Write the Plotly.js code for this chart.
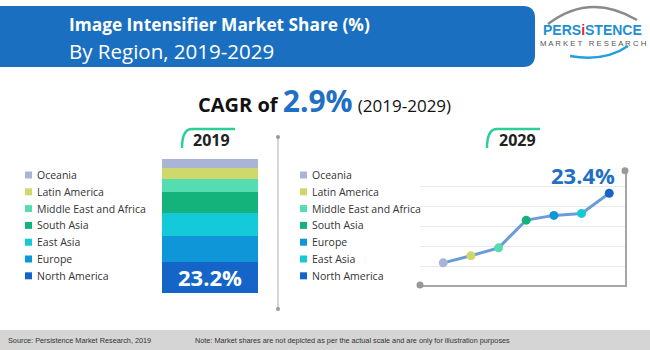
<!DOCTYPE html>
<html><head><meta charset="utf-8">
<script src="https://cdn.plot.ly/plotly-3.0.1.min.js"></script>
<style>html,body{margin:0;padding:0;background:#fff}#chart{width:650px;height:350px}</style>
</head><body><div id="chart"></div>
<script>
// ---- data ----
var regions2019 = ['North America','Europe','East Asia','South Asia','Middle East and Africa','Latin America','Oceania'];
var share2019 = [23.2, 19.4, 17.1, 15.7, 9.4, 8.6, 6.6];
var regions2029 = ['Oceania','Latin America','Middle East and Africa','South Asia','Europe','East Asia','North America'];
var share2029 = [5.8, 7.6, 9.6, 16.6, 17.8, 18.3, 23.4];
var legend2019 = ['Oceania','Latin America','Middle East and Africa','South Asia','East Asia','Europe','North America'];
var legend2029 = ['Oceania','Latin America','Middle East and Africa','South Asia','Europe','East Asia','North America'];
var regionColors = {
  'Oceania':'#aab4d6','Latin America':'#cfd86a','Middle East and Africa':'#55dcb0',
  'South Asia':'#14b37c','East Asia':'#14c9d8','Europe':'#0e96d8','North America':'#1565c8'
};
var titleText = 'Image Intensifier Market Share (%)';
var subtitleText = 'By Region, 2019-2029';
var cagrText = '2.9%';
var sourceText = 'Source: Persistence Market Research, 2019';
var noteText = 'Note: Market shares are not depicted as per the actual scale and are only for illustration purposes';

// ---- helpers (pixel -> paper) ----
var W = 650, H = 350;
function X(p){return p/W;}
function Y(p){return 1-p/H;}
var FONT = 'Open Sans, sans-serif';

var traces = [];
regions2019.forEach(function(r,i){
  var t = {type:'bar', x:['2019'], y:[share2019[i]], name:r, xaxis:'x', yaxis:'y',
    marker:{color:regionColors[r], line:{width:0}}, hoverinfo:'skip', width:1};
  if(r==='North America'){
    t.text=[share2019[i].toFixed(1)+'%']; t.textposition='inside'; t.insidetextanchor='middle';
    t.textfont={family:FONT, size:22, color:'#ffffff', weight:700}; t.constraintext='none';
  }
  traces.push(t);
});
traces.push({type:'scatter', mode:'lines', x:regions2029, y:share2029, xaxis:'x2', yaxis:'y2',
  line:{color:'#6a9cd8', width:3}, hoverinfo:'skip'});
traces.push({type:'scatter', mode:'markers', x:regions2029, y:share2029, xaxis:'x2', yaxis:'y2',
  marker:{size:9, color:regions2029.map(function(r){return regionColors[r];})}, hoverinfo:'skip'});

var shapes = [], annotations = [];
// header band
shapes.push({type:'path', xref:'paper', yref:'paper', layer:'below', line:{width:0}, fillcolor:'#1b6fc0',
  path:'M 0 '+Y(6)+' L '+X(523)+' '+Y(6)+' Q '+X(535)+' '+Y(6)+' '+X(535)+' '+Y(18)+
       ' L '+X(535)+' '+Y(55)+' Q '+X(535)+' '+Y(67)+' '+X(523)+' '+Y(67)+' L 0 '+Y(67)+' Z'});
annotations.push({xref:'paper', yref:'paper', x:X(67), y:Y(25), xanchor:'left', yanchor:'middle', showarrow:false,
  text:'<b>'+titleText+'</b>', font:{family:FONT, size:17.3, color:'#ffffff'}});
annotations.push({xref:'paper', yref:'paper', x:X(67), y:Y(51.5), xanchor:'left', yanchor:'middle', showarrow:false,
  text:subtitleText, font:{family:FONT, size:20.5, color:'#ffffff'}});
// logo
shapes.push({type:'path', xref:'paper', yref:'paper', line:{color:'#8a8a8a', width:2.5},
  path:'M '+X(548)+' '+Y(24)+' Q '+X(590)+' '+Y(-8)+' '+X(637)+' '+Y(20)});
shapes.push({type:'path', xref:'paper', yref:'paper', line:{color:'#22a0dc', width:2.5},
  path:'M '+X(570)+' '+Y(56)+' Q '+X(605)+' '+Y(62)+' '+X(628)+' '+Y(46)});
annotations.push({xref:'paper', yref:'paper', x:X(592), y:Y(30), xanchor:'center', yanchor:'middle', showarrow:false,
  text:'<b>PERS<span style="color:#e2262f">i</span>STENCE</b>', font:{family:'Liberation Sans Narrow, Liberation Sans, sans-serif', size:14, color:'#1e8fd0'}});
annotations.push({xref:'paper', yref:'paper', x:X(593), y:Y(43), xanchor:'center', yanchor:'middle', showarrow:false,
  text:'M A R K E T   R E S E A R C H', font:{family:'Liberation Sans, sans-serif', size:7.8, color:'#555555'}});
// CAGR line
annotations.push({xref:'paper', yref:'paper', x:X(324), y:Y(100), xanchor:'center', yanchor:'middle', showarrow:false,
  text:'<b>CAGR of </b><b><span style="font-size:30px;color:#1f6fc4">'+cagrText+'</span></b> <span style="font-size:17px">(2019-2029)</span>',
  font:{family:FONT, size:20, color:'#111111'}});
// year tabs
[['2019',182,211],['2029',487,517]].forEach(function(t){
  var x0=t[1];
  shapes.push({type:'path', xref:'paper', yref:'paper', line:{color:'#2ccf98', width:2.5},
    path:'M '+X(x0)+' '+Y(148)+' Q '+X(x0)+' '+Y(129)+' '+X(x0+10)+' '+Y(129)+' L '+X(x0+53)+' '+Y(129)});
  annotations.push({xref:'paper', yref:'paper', x:X(t[2]), y:Y(140), xanchor:'center', yanchor:'middle', showarrow:false,
    text:'<b>'+t[0]+'</b>', font:{family:FONT, size:16, color:'#222222'}});
});
// divider
shapes.push({type:'line', xref:'paper', yref:'paper', x0:X(278), x1:X(278), y0:Y(137), y1:Y(309), line:{color:'#c8c8c8', width:1.5}});
[137,309].forEach(function(py){
  shapes.push({type:'circle', xref:'paper', yref:'paper', x0:X(276), x1:X(280), y0:Y(py+2), y1:Y(py-2), fillcolor:'#999999', line:{width:0}});
});
// axis end dots
shapes.push({type:'circle', xref:'paper', yref:'paper', x0:X(416.5), x1:X(423.5), y0:Y(288.5), y1:Y(281.5), fillcolor:'#999999', line:{width:0}});
shapes.push({type:'circle', xref:'paper', yref:'paper', x0:X(621.5), x1:X(628.5), y0:Y(174.2), y1:Y(167.2), fillcolor:'#999999', line:{width:0}});
// legends
function legend(list, lx){
  list.forEach(function(r,i){
    var cy = 175 + i*16.8;
    shapes.push({type:'rect', xref:'paper', yref:'paper', x0:X(lx), x1:X(lx+7), y0:Y(cy+3.5), y1:Y(cy-3.5), fillcolor:regionColors[r], line:{width:0}});
    annotations.push({xref:'paper', yref:'paper', x:X(lx+10), y:Y(cy), xanchor:'left', yanchor:'middle', showarrow:false,
      text:r, font:{family:FONT, size:10.5, color:'#333333'}});
  });
}
legend(legend2019, 25);
legend(legend2029, 300);
// 2029 value label
annotations.push({xref:'x2', yref:'y2', x:regions2029[6], y:share2029[6], xanchor:'center', yanchor:'middle', showarrow:false,
  xshift:-26, yshift:18, text:'<b>'+share2029[6].toFixed(1)+'%</b>', font:{family:FONT, size:22, color:'#1f6fc4'}});
// footer
shapes.push({type:'rect', xref:'paper', yref:'paper', x0:0, x1:1, y0:0, y1:Y(330), fillcolor:'#d5d5d5', line:{width:0}, layer:'below'});
annotations.push({xref:'paper', yref:'paper', x:X(6), y:Y(340), xanchor:'left', yanchor:'middle', showarrow:false,
  text:sourceText, font:{family:'Liberation Sans Narrow, Liberation Sans, sans-serif', size:7.3, color:'#333333'}});
annotations.push({xref:'paper', yref:'paper', x:X(193), y:Y(340), xanchor:'left', yanchor:'middle', showarrow:false,
  text:noteText, font:{family:'Liberation Sans Narrow, Liberation Sans, sans-serif', size:7.3, color:'#333333'}});

var layout = {
  width:W, height:H, margin:{l:0,r:0,t:0,b:0}, paper_bgcolor:'#ffffff', plot_bgcolor:'rgba(0,0,0,0)',
  showlegend:false, barmode:'stack', bargap:0,
  xaxis:{type:'category', domain:[X(162),X(258)], range:[-0.5,0.5], visible:false, fixedrange:true},
  yaxis:{domain:[Y(293),Y(159)], range:[0,100], visible:false, fixedrange:true},
  xaxis2:{type:'category', anchor:'y2', domain:[X(420),X(625)], range:[-0.84,6.57], showline:true, linecolor:'#a6a6a6', linewidth:1.5,
    showticklabels:false, ticks:'', showgrid:false, zeroline:false, fixedrange:true},
  yaxis2:{anchor:'x2', side:'right', domain:[Y(285),Y(170.7)], range:[0.2,29.1], showline:true, linecolor:'#a6a6a6', linewidth:1.5,
    tickvals:[5,10,15,20,25], showticklabels:false, ticks:'', gridcolor:'#e9e9e9', gridwidth:1, zeroline:false, fixedrange:true},
  shapes:shapes, annotations:annotations
};
Plotly.newPlot('chart', traces, layout, {staticPlot:true, displayModeBar:false});
</script></body></html>
